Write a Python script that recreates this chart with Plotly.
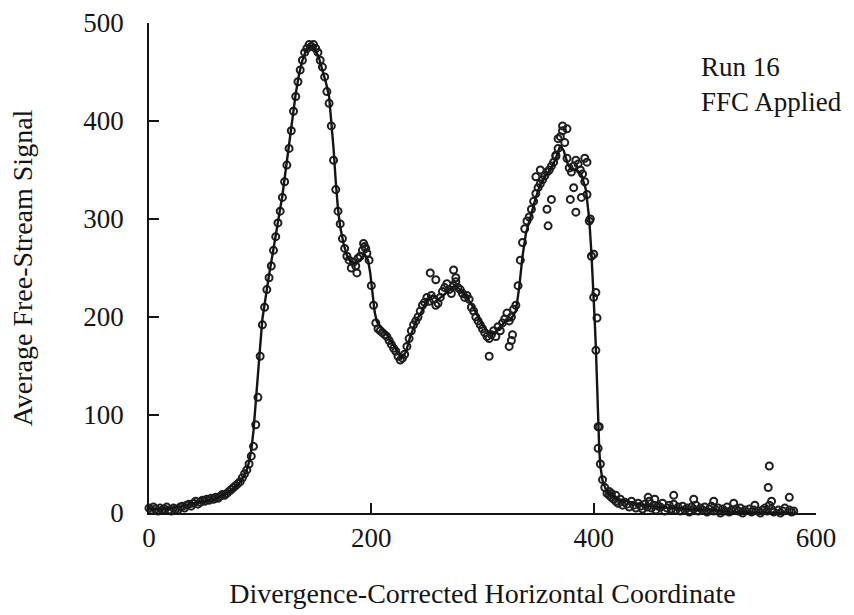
import plotly.graph_objects as go

# ---- data ----
scatter_x = list(range(0, 582, 2))
scatter_y = [
    5, 3, 6, 4, 2,
    5, 3, 4, 6, 3,
    2, 5, 4, 3, 6,
    7, 5, 8, 9, 7,
    10, 12, 9, 11, 13,
    12, 14, 13, 15, 14,
    16, 15, 17, 19, 18,
    20, 22, 24, 26, 28,
    30, 32, 36, 40, 44,
    50, 58, 68, 90, 118,
    160, 192, 210, 228, 240,
    252, 268, 282, 296, 308,
    322, 338, 355, 372, 390,
    410, 425, 440, 452, 462,
    470, 474, 478, 476, 478,
    474, 470, 462, 455, 445,
    430, 418, 395, 360, 330,
    308, 295, 280, 270, 262,
    258, 250, 256, 252, 260,
    262, 268, 272, 265, 258,
    232, 212, 194, 188, 186,
    184, 182, 180, 176, 172,
    168, 165, 160, 156, 158,
    162, 170, 178, 186, 192,
    196, 200, 206, 212, 215,
    220, 216, 222, 218, 212,
    214, 220, 226, 230, 234,
    228, 224, 232, 236, 230,
    228, 224, 220, 222, 218,
    210, 206, 200, 196, 192,
    188, 184, 180, 178, 182,
    186, 180, 190, 186, 194,
    198, 204, 196, 200, 208,
    212, 232, 258, 276, 290,
    298, 302, 310, 318, 326,
    332, 336, 340, 344, 348,
    350, 354, 358, 364, 372,
    384, 390, 378, 362, 352,
    348, 354, 360, 356, 350,
    346, 338, 325, 298, 262,
    220, 166, 88, 50, 34,
    26, 20, 18, 16, 14,
    12, 10, 14, 8, 11,
    9, 6, 12, 8, 5,
    10, 7, 4, 9, 6,
    12, 5, 8, 3, 7,
    6, 10, 2, 5, 8,
    4, 9, 3, 6, 2,
    7, 3, 5, 1, 6,
    4, 8, 2, 5, 3,
    6, 1, 4, 7, 2,
    3, 5, 0, 4, 2,
    6, 1, 3, -1, 4,
    2, 5, 0, 3, -2,
    4, 1, 3, -1, 2,
    0, 3, 5, 2, 8,
    4, 1, -2, 3, 0,
    2, 5, -1, 3, 1,
    2,
]

extra_x = [187, 193, 195, 253, 258, 274, 276, 306, 324, 326, 327, 348, 352, 359, 358,
           362, 366, 368, 372, 376, 382, 379, 384, 389, 392, 394, 397, 400, 402, 403,
           405, 404, 414, 416, 420, 449, 455, 472, 490, 508, 526, 545, 557, 558, 560, 576]
extra_y = [245, 275, 270, 245, 238, 248, 240, 160, 170, 176, 182, 343, 350, 293, 310,
           320, 365, 382, 395, 392, 332, 320, 307, 322, 362, 358, 300, 264, 225, 199,
           88, 66, 22, 20, 18, 16, 14, 18, 14, 12, 10, 8, 26, 48, 12, 16]

line_x = [0, 10, 20, 30, 40, 50, 60, 70, 75, 80,
          85, 88, 90, 92, 94, 96, 98, 100, 102, 105,
          108, 111, 114, 117, 120, 123, 126, 129, 132, 135,
          138, 141, 144, 147, 150, 153, 156, 159, 162, 164,
          166, 168, 170, 172, 175, 178, 181, 185, 190, 194,
          197, 199, 201, 203, 205, 209, 213, 218, 223, 227,
          231, 235, 240, 245, 250, 255, 260, 265, 270, 275,
          280, 285, 290, 295, 300, 305, 310, 315, 320, 325,
          330, 333, 336, 339, 343, 348, 352, 357, 362, 366,
          370, 373, 377, 381, 385, 389, 393, 396, 398, 400,
          401, 402, 403, 404, 405, 406, 408, 411, 415, 420,
          430, 440, 450, 470, 500, 530, 560, 580]
line_y = [4, 4, 5, 7, 10, 12, 15, 20, 24, 29,
          37, 44, 52, 64, 84, 110, 140, 170, 198, 222,
          243, 263, 283, 302, 324, 350, 378, 404, 428, 448,
          462, 471, 476, 477, 472, 464, 453, 440, 425, 402,
          372, 338, 310, 292, 275, 263, 257, 255, 258, 264,
          258, 245, 226, 205, 195, 189, 184, 175, 165, 158,
          164, 180, 195, 205, 217, 222, 218, 222, 228, 232,
          228, 222, 213, 202, 192, 185, 183, 188, 195, 197,
          206, 230, 262, 285, 302, 322, 335, 345, 352, 362,
          375, 370, 355, 350, 350, 345, 330, 300, 265, 225,
          195, 168, 125, 90, 65, 48, 33, 24, 19, 15,
          12, 9, 7, 5, 3, 1, 0, 0]

x_ticks = [0, 200, 400, 600]
y_ticks = [0, 100, 200, 300, 400, 500]
x_title = "Divergence-Corrected Horizontal Coordinate"
y_title = "Average Free-Stream Signal"
note_lines = ["Run 16", "FFC Applied"]

FONT = "Liberation Serif"
INK = "#141414"

fig = go.Figure()
fig.add_trace(go.Scatter(
    x=scatter_x + extra_x, y=scatter_y + extra_y, mode="markers",
    marker=dict(symbol="circle-open", size=7, color="#1e1e1e", line=dict(width=2)),
    cliponaxis=False, showlegend=False, hoverinfo="skip"))
fig.add_trace(go.Scatter(
    x=line_x, y=line_y, mode="lines",
    line=dict(color=INK, width=2.4), cliponaxis=False,
    showlegend=False, hoverinfo="skip"))

axis_common = dict(
    showgrid=False, zeroline=False, showline=True, linecolor=INK, linewidth=1.6,
    ticks="inside", ticklen=10, tickwidth=1.6, tickcolor=INK, automargin=False,
    tickfont=dict(family=FONT, size=27, color=INK),
    title_font=dict(family=FONT, size=28, color=INK),
)

fig.update_xaxes(range=[0, 600], tickvals=x_ticks, ticktext=[str(v) for v in x_ticks],
                 title_text=x_title, title_standoff=31, ticklabelstandoff=0,
                 **axis_common)
fig.update_yaxes(range=[0, 500], tickvals=y_ticks, ticktext=[str(v) for v in y_ticks],
                 title_text=y_title, title_standoff=42, ticklabelstandoff=18,
                 **axis_common)

fig.add_annotation(x=495, y=472, xref="x", yref="y", xanchor="left", yanchor="top",
                   align="left", showarrow=False, text="<br>".join(note_lines),
                   font=dict(family=FONT, size=27, color=INK))

fig.update_layout(
    width=854, height=615,
    margin=dict(l=149, r=38, t=23, b=102, autoexpand=False),
    paper_bgcolor="white", plot_bgcolor="white",
)

fig.write_html("out.html", config={"displayModeBar": False},
               post_script="document.body.style.margin='0';document.body.style.overflow='hidden';")
